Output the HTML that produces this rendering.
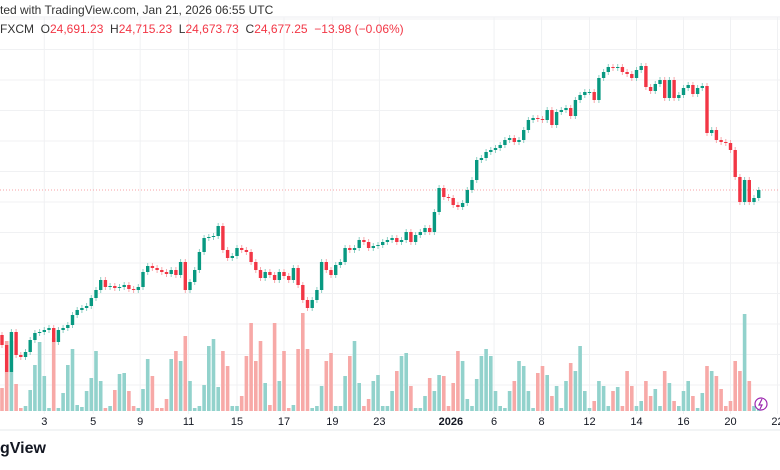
<!DOCTYPE html>
<html><head><meta charset="utf-8">
<style>
html,body{margin:0;padding:0;background:#fff;width:780px;height:470px;overflow:hidden;font-family:"Liberation Sans",sans-serif;}
#hdr{position:absolute;left:0;top:3px;font-size:12px;color:#333;white-space:nowrap;}
#ohlc{position:absolute;left:0;top:22px;font-size:12px;color:#333;white-space:nowrap;}
#ohlc .v{color:#f23645;}
#brand{position:absolute;left:0;top:440px;font-size:16px;font-weight:bold;color:#131722;}
svg{position:absolute;left:0;top:0;}
</style></head><body>
<svg id="chart" width="780" height="470"></svg>
<div id="hdr">ted with TradingView.com, Jan 21, 2026 06:55 UTC</div>
<div id="ohlc">FXCM&nbsp; O<span class="v">24,691.23</span>&nbsp; H<span class="v">24,715.23</span>&nbsp; L<span class="v">24,673.73</span>&nbsp; C<span class="v">24,677.25</span>&nbsp; <span class="v">−13.98 (−0.06%)</span></div>
<div id="brand">gView</div>
<script>
const closes=[23130,22860,23260,23030,23010,23060,23180,23250,23260,23280,23300,23160,23280,23300,23330,23430,23480,23500,23520,23600,23680,23780,23710,23720,23700,23710,23730,23690,23680,23710,23860,23920,23900,23880,23860,23840,23880,23830,23960,23680,23760,23880,24060,24200,24210,24220,24320,24080,24000,24020,24100,24080,24060,23960,23880,23800,23860,23830,23780,23860,23820,23780,23900,23730,23580,23500,23580,23680,23960,23880,23830,23930,23960,24100,24080,24100,24180,24160,24100,24120,24130,24160,24180,24200,24160,24180,24260,24160,24230,24260,24300,24260,24460,24700,24610,24600,24530,24510,24550,24680,24780,24980,25000,25060,25080,25100,25130,25180,25200,25160,25180,25280,25380,25400,25390,25380,25480,25330,25460,25480,25500,25420,25580,25630,25660,25660,25580,25800,25860,25910,25900,25910,25860,25840,25800,25880,25920,25710,25670,25740,25780,25600,25780,25600,25630,25700,25730,25640,25700,25720,25250,25280,25180,25160,25150,25080,24810,24560,24780,24560,24600,24680];
const firstOpen=23230;
const volumes=[23,70,70,27,3,5,21,46,69,35,3,73,3,18,46,62,6,4,20,33,60,30,3,5,21,37,38,20,5,3,22,52,35,3,3,12,52,60,50,75,30,3,5,26,65,72,24,60,45,5,5,15,55,88,50,70,28,6,88,30,60,3,6,62,98,62,3,5,25,50,58,5,5,35,55,70,28,5,12,30,36,5,5,20,40,55,58,25,3,3,15,33,20,36,35,5,28,60,50,12,5,32,55,62,55,20,5,3,20,30,50,45,20,3,38,45,36,15,25,3,30,48,40,65,20,3,10,30,25,5,20,24,5,40,25,5,10,30,15,22,5,40,28,10,5,20,30,15,3,18,45,40,35,22,5,10,50,40,97,30,5,3];
const timeLabels=["c","3","5","9","11","15","17","19","23","2026","6","8","12","14","16","20","22"];
const timeLabelIdx=[-9,9,19.4,29.4,39.7,50,60,70.3,80.3,95.5,104.7,114.8,125,135,145,155,165];
const lastClose=24680;

const NS="http://www.w3.org/2000/svg";
const svg=document.getElementById('chart');
function mk(t,a,p){const e=document.createElementNS(NS,t);for(const k in a)e.setAttribute(k,a[k]);(p||svg).appendChild(e);return e;}
const step=4.7,x0=2;
const xS=i=>x0+i*step;
const yS=p=>(26580-p)/10;
const volBase=411,vS=v=>v;

// grid
const grid=mk('g',{});


for(let y=19;y<415;y+=30.5){mk('line',{x1:0,x2:780,y1:y,y2:y,stroke:'#f0f1f3','stroke-width':1},grid);}
mk('line',{x1:0,x2:780,y1:17,y2:17,stroke:'#eceef1'},grid);
timeLabelIdx.forEach((ix,k)=>{if(timeLabels[k]==='2026')return;const x=xS(ix);mk('line',{x1:x,x2:x,y1:17,y2:414,stroke:'#f0f1f3'},grid);});

// volumes
const vg=mk('g',{});


volumes.forEach((v,i)=>{const o=i?closes[i-1]:firstOpen;const up=closes[i]>=o;
 const r=mk('rect',{x:xS(i)-1.8,y:volBase-vS(v),width:3.6,height:vS(v),fill:up?'#92d2cc':'#f7a9a7'},vg);
 
 });

// price line
const pl=mk('line',{x1:0,x2:780,y1:yS(lastClose),y2:yS(lastClose),stroke:'#f7a0a6','stroke-width':1,'stroke-dasharray':'1 2'});



// candles
const cg=mk('g',{});


closes.forEach((c,i)=>{const o=i?closes[i-1]:firstOpen;const up=c>=o;const col=up?'#089981':'#f23645';
 const hi=Math.max(o,c)+30,lo=Math.min(o,c)-30;const x=xS(i);
 const g=mk('g',{},cg);
 
 
 mk('line',{x1:x,x2:x,y1:yS(hi),y2:yS(lo),stroke:up?'#8fd0c4':'#f7a9ae','stroke-width':1},g);
 const t=yS(Math.max(o,c)),b=yS(Math.min(o,c));
 mk('rect',{x:x-1.7,y:t,width:3.4,height:Math.max(1,b-t),fill:col},g);});

// time axis
mk('line',{x1:0,x2:780,y1:430,y2:430,stroke:'#e6e8eb'});
timeLabelIdx.forEach((ix,k)=>{const t=mk('text',{x:xS(ix),y:425,'font-size':11,'text-anchor':'middle',fill:'#131722','font-family':'Liberation Sans, sans-serif','font-weight':timeLabels[k]==='2026'?'bold':'normal'});
 t.textContent=timeLabels[k];
 
 });
// lightning icon
const ic=mk('g',{});


mk('circle',{cx:761,cy:404,r:6,fill:'#fff',stroke:'#9c27b0','stroke-width':1.2},ic);
mk('path',{d:'M762 399 L759 405 L762 405 L760 409',stroke:'#9c27b0',fill:'none','stroke-width':1.2},ic);
</script>
</body></html>
